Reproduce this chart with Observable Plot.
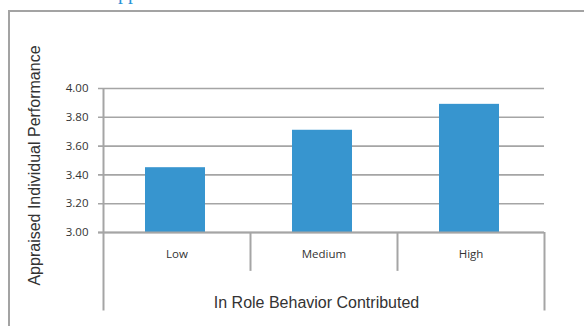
<!DOCTYPE html>
<html>
<head>
<meta charset="utf-8">
<script src="https://cdn.jsdelivr.net/npm/d3@7"></script>
<script src="https://cdn.jsdelivr.net/npm/@observablehq/plot@0.6"></script>
<style>
  html, body { margin: 0; padding: 0; background: #fff; }
  #wrap { position: relative; width: 584px; height: 326px; overflow: hidden; }
  #frame { position: absolute; left: 8px; top: 10px; width: 600px; height: 400px;
           border-top: 2px solid #a3a3a3; border-left: 2px solid #a3a3a3; }
  #cut { position: absolute; left: 118px; top: -19px; font: 20px "Liberation Serif", serif; color: #2b93d6; }
  #chart { position: absolute; left: 0; top: 0; }
</style>
</head>
<body>
<div id="wrap">
  <div id="frame"></div>
  <div id="cut">pp</div>
  <div id="chart"></div>
</div>
<script>
const categories = ["Low", "Medium", "High"];
const values = [3.45, 3.71, 3.89];
const yTicks = [3.0, 3.2, 3.4, 3.6, 3.8, 4.0];
const xTitle = "In Role Behavior Contributed";
const yTitle = "Appraised Individual Performance";

const data = categories.map((c, i) => ({cat: c, v: values[i]}));
const grid = "#a5a5a5";
const band = (544 - 103) / categories.length;

const chart = Plot.plot({
  width: 584,
  height: 326,
  marginLeft: 98,
  marginRight: 40,
  marginTop: 20,
  marginBottom: 16,
  style: {background: "transparent", fontFamily: "'Open Sans', sans-serif"},
  x: {type: "band", domain: categories, range: [103, 544], padding: 0, axis: null},
  y: {domain: [3, 4], range: [232, 88], axis: null},
  marks: [
    Plot.ruleY(yTicks, {y: d => d, stroke: grid, strokeWidth: 1.6}),
    Plot.barY(data, {x: "cat", y1: 3, y2: "v", fill: "#3795cf", insetLeft: 42, insetRight: 45}),
    Plot.ruleY([3], {y: d => d, stroke: grid, strokeWidth: 2}),
    Plot.ruleX(categories.slice(1), {x: d => d, dx: -band / 2, y1: 3, y2: 2.73, stroke: grid, strokeWidth: 2}),
    Plot.ruleX(categories.slice(0, 1), {x: d => d, dx: -band / 2, y1: 4, y2: 2.455, stroke: grid, strokeWidth: 2}),
    Plot.ruleX(categories.slice(-1), {x: d => d, dx: band / 2, y1: 3, y2: 2.455, stroke: grid, strokeWidth: 2}),
    Plot.text(yTicks, {y: d => d, frameAnchor: "left", dx: -10, text: d => d.toFixed(2), textAnchor: "end", fontSize: 11.5, fill: "#333"}),
    Plot.text(categories, {x: d => d, y: 3, dy: 22, text: d => d, fontSize: 11.5, fill: "#333"}),
    Plot.text([xTitle], {frameAnchor: "bottom", dy: -3, dx: -5, text: d => d, fontSize: 16, fill: "#333", fontFamily: "'Liberation Sans', Arial, sans-serif"}),
    Plot.text([yTitle], {frameAnchor: "left", dx: -64, rotate: -90, textAnchor: "middle", text: d => d, fontSize: 16, fill: "#333", fontFamily: "'Liberation Sans', Arial, sans-serif"})
  ]
});
document.getElementById("chart").appendChild(chart);
</script>
</body>
</html>
